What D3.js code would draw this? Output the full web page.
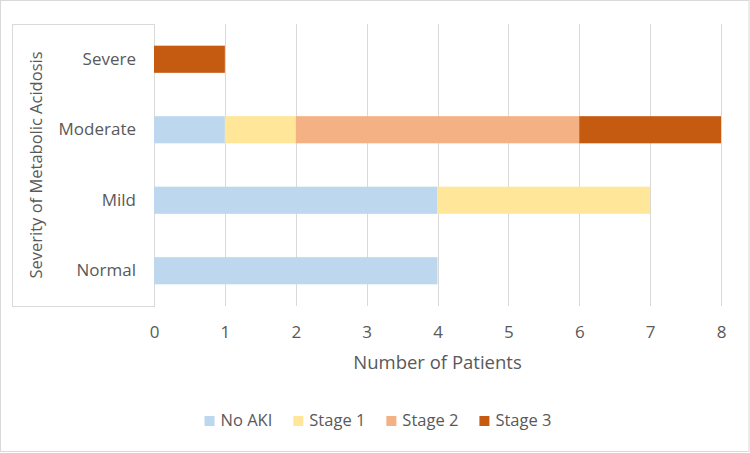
<!DOCTYPE html>
<html lang="en">
<head>
    <meta charset="UTF-8">
    <title>Severity of Metabolic Acidosis vs AKI</title>
    <script src="https://d3js.org/d3.v7.min.js"></script>
    <style>
        body {
            margin: 0;
            padding: 0;
            background-color: #fff;
        }

        text {
            font-family: 'Open Sans', sans-serif;
            fill: #595959;
        }
    </style>
</head>
<body>
<div id="chart"></div>
<script>
    // categories bottom -> top
    const categories = ["Normal", "Mild", "Moderate", "Severe"];
    const seriesNames = ["No AKI", "Stage 1", "Stage 2", "Stage 3"];
    const seriesColors = ["#bdd7ee", "#ffe699", "#f4b183", "#c55a11"];

    // values per series, in category order
    const noAki = [4, 4, 1, 0];
    const stage1 = [0, 3, 1, 0];
    const stage2 = [0, 0, 4, 0];
    const stage3 = [0, 0, 2, 1];

    const xTicks = [0, 1, 2, 3, 4, 5, 6, 7, 8];

    const width = 750;
    const height = 453;
    const margin = {top: 24, right: 29, bottom: 147, left: 154};

    const svg = d3.select("#chart")
        .append("svg")
        .attr("width", width)
        .attr("height", height);

    // outer border of the chart area
    svg.append("rect")
        .attr("x", 0.5)
        .attr("y", 0.5)
        .attr("width", width - 1.5)
        .attr("height", height - 2)
        .attr("fill", "#fff")
        .attr("stroke", "#d9d9d9");

    const rows = categories.map(function (c, i) {
        return {
            category: c,
            "No AKI": noAki[i],
            "Stage 1": stage1[i],
            "Stage 2": stage2[i],
            "Stage 3": stage3[i]
        };
    });

    const x = d3.scaleLinear()
        .domain([0, 8])
        .range([margin.left, width - margin.right]);

    const y = d3.scaleBand()
        .domain(categories.slice().reverse())
        .range([margin.top, height - margin.bottom])
        .paddingInner(0.615)
        .paddingOuter(0.3075);

    const color = d3.scaleOrdinal()
        .domain(seriesNames)
        .range(seriesColors);

    // box around the category axis
    svg.append("rect")
        .attr("x", 12.5)
        .attr("y", margin.top + 0.5)
        .attr("width", margin.left - 12)
        .attr("height", height - margin.bottom - margin.top)
        .attr("fill", "#fff")
        .attr("stroke", "#d9d9d9");

    // vertical gridlines
    svg.append("g")
        .selectAll("line")
        .data(xTicks)
        .enter().append("line")
        .attr("x1", function (d) { return Math.round(x(d)) + 0.5; })
        .attr("x2", function (d) { return Math.round(x(d)) + 0.5; })
        .attr("y1", margin.top)
        .attr("y2", height - margin.bottom)
        .attr("stroke", "#d9d9d9")
        .attr("stroke-width", 1);

    // stacked bars
    const stacked = d3.stack().keys(seriesNames)(rows);

    svg.append("g")
        .selectAll("g")
        .data(stacked)
        .enter().append("g")
        .attr("fill", function (d) { return color(d.key); })
        .selectAll("rect")
        .data(function (d) { return d; })
        .enter().append("rect")
        .attr("x", function (d) { return x(d[0]); })
        .attr("y", function (d) { return y(d.data.category); })
        .attr("width", function (d) { return x(d[1]) - x(d[0]); })
        .attr("height", y.bandwidth());

    // x axis tick labels
    const xAxis = d3.axisBottom(x)
        .tickValues(xTicks)
        .tickSize(0)
        .tickPadding(0);

    const gx = svg.append("g")
        .attr("transform", "translate(0," + (height - margin.bottom) + ")")
        .call(xAxis);
    gx.select(".domain").remove();
    gx.selectAll("text")
        .attr("dy", null)
        .attr("y", 32)
        .style("font-size", "17px")
        .style("font-family", "'Open Sans', sans-serif")
        .attr("fill", "#595959");

    // y axis category labels
    const yAxis = d3.axisLeft(y)
        .tickSize(0)
        .tickPadding(18);

    const gy = svg.append("g")
        .attr("transform", "translate(" + margin.left + ",0)")
        .call(yAxis);
    gy.select(".domain").remove();
    gy.selectAll("text")
        .style("font-size", "17px")
        .style("font-family", "'Open Sans', sans-serif")
        .attr("fill", "#595959");

    // axis titles
    svg.append("text")
        .attr("x", (x(0) + x(8)) / 2)
        .attr("y", 369)
        .attr("text-anchor", "middle")
        .style("font-size", "18.5px")
        .text("Number of Patients");

    svg.append("text")
        .attr("transform", "translate(42," + ((margin.top + height - margin.bottom) / 2) + ") rotate(-90)")
        .attr("text-anchor", "middle")
        .style("font-size", "16.5px")
        .text("Severity of Metabolic Acidosis");

    // legend
    const legend = svg.append("g");
    const items = legend.selectAll("g")
        .data(seriesNames)
        .enter().append("g");

    items.append("rect")
        .attr("width", 10)
        .attr("height", 10)
        .attr("y", -10)
        .attr("fill", function (d) { return color(d); });

    items.append("text")
        .attr("x", 16)
        .attr("y", 0)
        .style("font-size", "16.5px")
        .text(function (d) { return d; });

    let offset = 0;
    items.each(function () {
        const g = d3.select(this);
        g.attr("transform", "translate(" + offset + ",0)");
        offset += 16 + g.select("text").node().getComputedTextLength() + 21;
    });
    const legendWidth = offset - 21;
    legend.attr("transform", "translate(" + (378 - legendWidth / 2) + ",426)");
</script>
</body>
</html>
